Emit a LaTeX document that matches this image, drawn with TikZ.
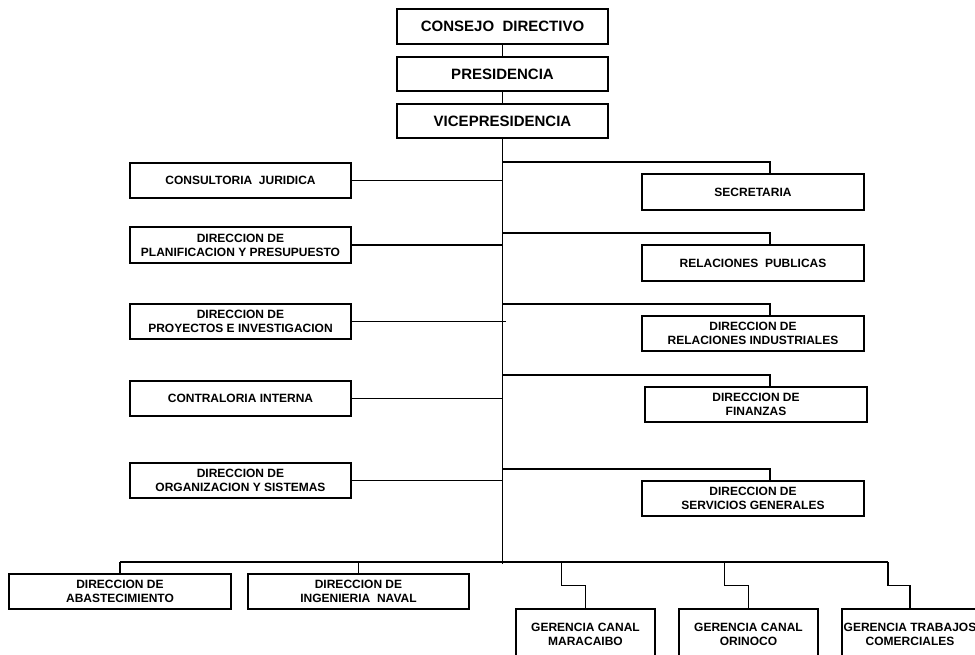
\documentclass[tikz,border=0pt]{standalone}
\usepackage{fontspec}
\setmainfont{Liberation Sans}
\begin{document}
\begin{tikzpicture}[x=1pt,y=-1pt,
  box/.style={draw, line width=1.2pt, inner sep=0pt, align=center, font=\bfseries\fontsize{12}{14}\selectfont, minimum width=222pt, minimum height=35pt},
  topbox/.style={box, font=\bfseries\fontsize{15}{17}\selectfont, minimum width=211pt, minimum height=35pt},
  conn/.style={line width=1.2pt}]
\useasboundingbox (0,0) rectangle (975,654);
% top
\node[topbox] (cd) at (502.5,26.5) {CONSEJO\ \ DIRECTIVO};
\node[topbox, minimum height=34pt] (pres) at (502.5,74) {PRESIDENCIA};
\node[topbox, minimum height=34pt] (vice) at (502.5,121) {VICEPRESIDENCIA};
% left column
\node[box, minimum width=221pt] (cj) at (240.5,180.5) {CONSULTORIA\ \ JURIDICA};
\node[box, minimum width=221pt, minimum height=36pt] (plan) at (240.5,245) {DIRECCION DE\\PLANIFICACION Y PRESUPUESTO};
\node[box, minimum width=221pt] (proy) at (240.5,321.5) {DIRECCION DE\\PROYECTOS E INVESTIGACION};
\node[box, minimum width=221pt] (contra) at (240.5,398.5) {CONTRALORIA INTERNA};
\node[box, minimum width=221pt] (org) at (240.5,480.5) {DIRECCION DE\\ORGANIZACION Y SISTEMAS};
% right column
\node[box, minimum height=36pt] (sec) at (753,192) {SECRETARIA};
\node[box, minimum height=36pt] (rp) at (753,263) {RELACIONES\ \ PUBLICAS};
\node[box] (ri) at (753,333.5) {DIRECCION DE\\RELACIONES INDUSTRIALES};
\node[box] (fin) at (756,404.5) {DIRECCION DE\\FINANZAS};
\node[box] (sg) at (753,498.5) {DIRECCION DE\\SERVICIOS GENERALES};
% bottom row
\node[box] (abast) at (120,591.5) {DIRECCION DE\\ABASTECIMIENTO};
\node[box, minimum width=221pt] (ing) at (358.5,591.5) {DIRECCION DE\\INGENIERIA\ \ NAVAL};
\node[box, minimum width=139pt, minimum height=51pt] (mar) at (585.5,634.5) {GERENCIA CANAL\\MARACAIBO};
\node[box, minimum width=139pt, minimum height=51pt] (ori) at (748.5,634.5) {GERENCIA CANAL\\ORINOCO};
\node[box, minimum width=136pt, minimum height=51pt] (trab) at (910,634.5) {GERENCIA TRABAJOS\\COMERCIALES};
% coordinates
\coordinate (spineEnd) at (502.5,564);
\coordinate (bus) at (0,562);
\coordinate (rc) at (770,0);
% top chain and spine
\draw[conn] (cd) -- (pres);
\draw[conn] (pres) -- (vice);
\draw[conn] (vice.south) -- (spineEnd);
% left branches
\draw[conn] (cj.east) -- (cj.east -| spineEnd);
\draw[conn] (plan.east) -- (plan.east -| spineEnd);
\draw[conn] (proy.east) -- ([xshift=3pt]proy.east -| spineEnd);
\draw[conn] (contra.east) -- (contra.east -| spineEnd);
\draw[conn] (org.east) -- (org.east -| spineEnd);
% right branches
\foreach \n in {sec,rp,ri,fin,sg}{
  \draw[conn] ([yshift=11.5pt]\n.north -| spineEnd) -| (\n.north -| rc);
}
% bottom bus
\draw[conn] (abast.north) -- (abast.north |- bus);
\draw[conn] (ing.north) -- (ing.north |- bus);
\draw[conn] (mar.north) |- ([xshift=-24pt,yshift=23pt]mar.north) coordinate (mj) -- (mj |- bus);
\draw[conn] (ori.north) |- ([xshift=-24pt,yshift=23pt]ori.north) coordinate (oj) -- (oj |- bus);
\draw[conn] (trab.north) |- ([xshift=-22pt,yshift=23pt]trab.north) coordinate (tj) -- (tj |- bus);
\draw[conn] (abast.north |- bus) -- (tj |- bus);
\end{tikzpicture}
\end{document}
